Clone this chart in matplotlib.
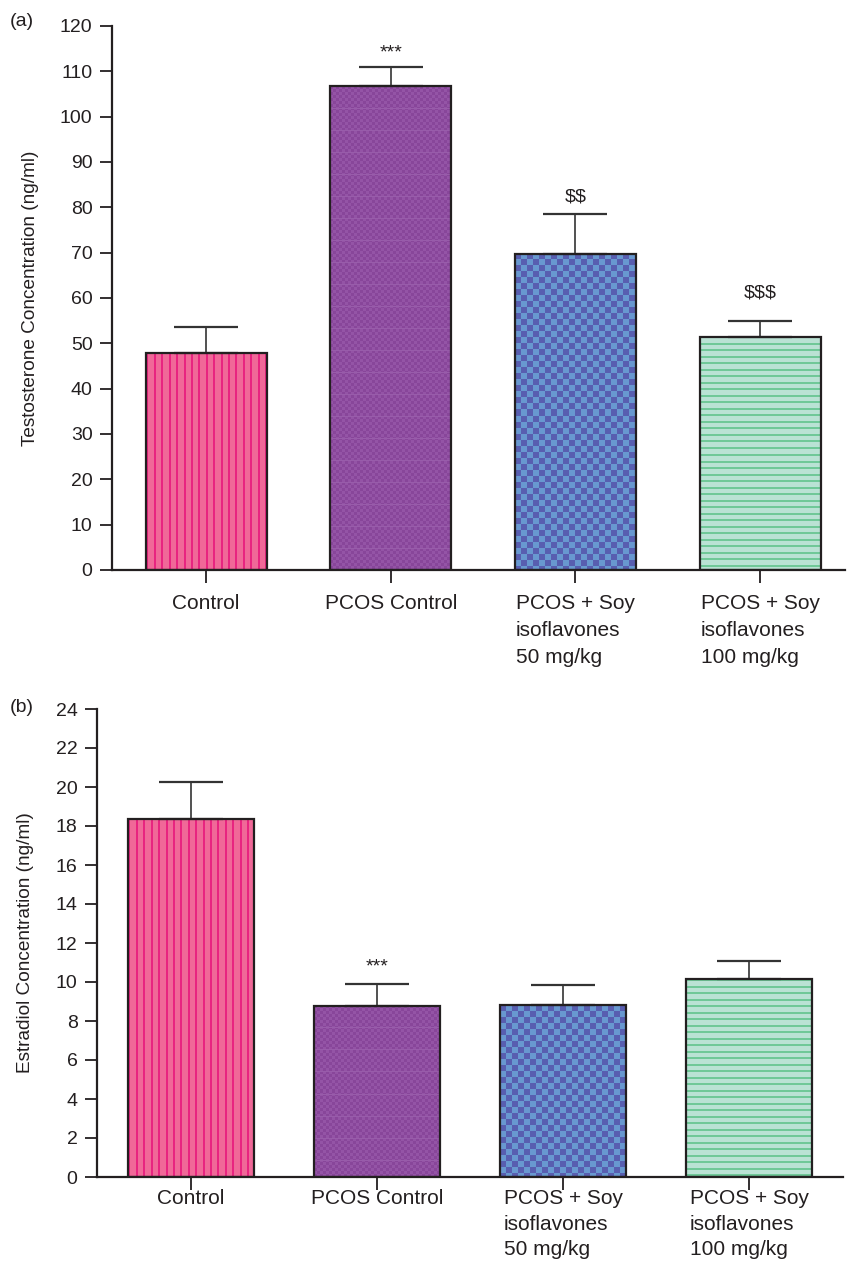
import numpy as np
import matplotlib
matplotlib.use('Agg')
import matplotlib.pyplot as plt

plt.rcParams['font.family'] = ['Liberation Sans', 'DejaVu Sans']
plt.rcParams['text.parse_math'] = False

groups = ['Control', 'PCOS Control',
          'PCOS + Soy\nisoflavones\n50 mg/kg', 'PCOS + Soy\nisoflavones\n100 mg/kg']

testo_mean = [47.9, 106.7, 69.8, 51.5]
testo_err = [5.7, 4.3, 8.8, 3.5]
testo_marks = ['', '***', '$$', '$$$']

estra_mean = [18.35, 8.77, 8.82, 10.15]
estra_err = [1.9, 1.13, 1.03, 0.93]
estra_marks = ['', '***', '', '']

INK = '#231F20'


# fill textures, built in pixel units
def texture(kind, w, h):
    yy, xx = np.mgrid[0:h, 0:w]
    img = np.zeros((h, w, 3))
    if kind == 'vstripe':
        base, line = np.array([240, 104, 152]), np.array([232, 36, 128])
        mask = (xx % 7.4) < 2
    elif kind == 'finecheck':
        base, line = np.array([148, 84, 166]), np.array([136, 70, 154])
        mask = ((xx // 3) + (yy // 3)) % 2 == 0
        img[:] = base
        img[mask] = line
        img[(yy % 22) == 0] = np.array([152, 92, 170])
        return img / 255
    elif kind == 'check':
        base, line = np.array([104, 152, 208]), np.array([88, 94, 176])
        mask = ((xx // 6) + (yy // 6)) % 2 == 0
    else:
        base, line = np.array([186, 226, 212]), np.array([112, 200, 152])
        mask = (yy % 6.5) < 2
    img[:] = base
    img[mask] = line
    return img / 255


kinds = ['vstripe', 'finecheck', 'check', 'hstripe']

fig = plt.figure(figsize=(8.47, 12.75), dpi=100)
ax_a = fig.add_axes([112/847, 1 - 570/1275, 733/847, 544/1275])
ax_b = fig.add_axes([97/847, 1 - 1177/1275, 746/847, 468/1275])


def panel(ax, means, errs, marks, ymax, step, ylabel, tag, tag_y, xlim, width,
          offs, xpad, ylpad, lspace):
    x = np.arange(len(groups))
    ax.set_xlim(*xlim)
    ax.set_ylim(0, ymax)
    bars = ax.bar(x, means, width=width, facecolor='none', edgecolor=INK,
                  linewidth=1.6, zorder=3)
    for b, k in zip(bars, kinds):
        x0, y0 = b.get_x(), b.get_y()
        x1, y1 = x0 + b.get_width(), y0 + b.get_height()
        (px0, py0), (px1, py1) = ax.transData.transform([(x0, y0), (x1, y1)])
        img = texture(k, max(int(round(px1 - px0)), 1), max(int(round(py1 - py0)), 1))
        ax.imshow(img, extent=(x0, x1, y0, y1), aspect='auto',
                  interpolation='nearest', zorder=2)
    ax.errorbar(x, means, yerr=[np.zeros(len(means)), errs], fmt='none',
                ecolor='#333333', elinewidth=1.2, capsize=22.7, capthick=1.6,
                zorder=2.5)
    for xi, m, e, s, o in zip(x, means, errs, marks, offs):
        if s:
            ax.annotate(s, (xi, m + e), xytext=(0, o), textcoords='offset points',
                        ha='center', va='bottom', fontsize=14, color=INK)
    ax.set_xlim(*xlim)
    ax.set_ylim(0, ymax)
    ax.set_yticks(np.arange(0, ymax + step / 2, step))
    ax.set_xticks(x)
    ax.set_xticklabels(groups, ha='center', multialignment='left',
                       linespacing=lspace)
    ax.tick_params(axis='y', length=9, width=1.3, labelsize=14, colors=INK, pad=5)
    ax.tick_params(axis='x', length=9, width=1.3, labelsize=15, colors=INK, pad=xpad)
    for sp in ['top', 'right']:
        ax.spines[sp].set_visible(False)
    for sp in ['left', 'bottom']:
        ax.spines[sp].set_linewidth(1.6)
        ax.spines[sp].set_color(INK)
    ax.set_ylabel(ylabel, fontsize=13.7, color=INK, labelpad=ylpad)
    fig.text(10 / 847, 1 - tag_y / 1275, tag, fontsize=14, color=INK,
             ha='left', va='center')


panel(ax_a, testo_mean, testo_err, testo_marks, 120, 10,
      'Testosterone Concentration (ng/ml)', '(a)', 22, (-0.51, 3.46), 0.655,
      [0, 4, 6, 14], 8, 15, 1.55)
panel(ax_b, estra_mean, estra_err, estra_marks, 24, 2,
      'Estradiol Concentration (ng/ml)', '(b)', 708, (-0.505, 3.505), 0.68,
      [0, 6, 0, 0], 0, 15.5, 1.42)

fig.savefig('out.png', dpi=100)
